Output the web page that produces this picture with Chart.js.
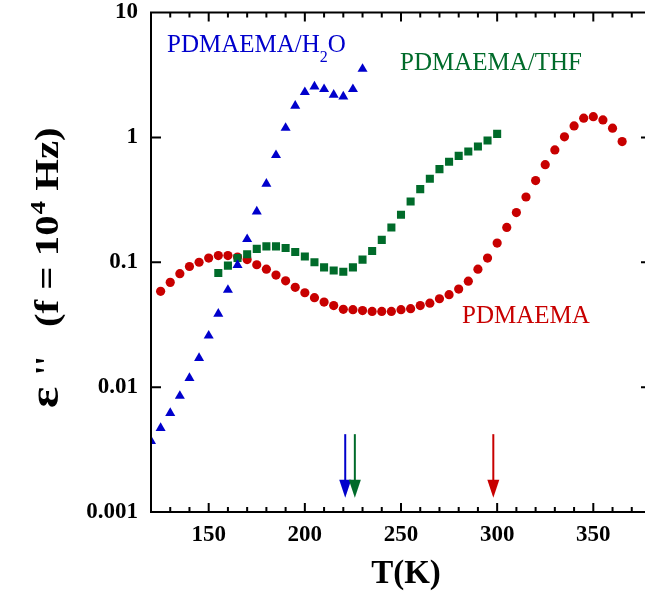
<!DOCTYPE html>
<html>
<head>
<meta charset="utf-8">
<script src="https://cdn.jsdelivr.net/npm/chart.js@4.4.1/dist/chart.umd.min.js"></script>
<style>
html, body { margin: 0; padding: 0; background: #fff; overflow: hidden; }
#wrap { width: 660px; height: 593px; }
</style>
</head>
<body>
<div id="wrap"><canvas id="chart" width="660" height="593"></canvas></div>
<script>
// PDMAEMA/H2O
var tempH2O = [120, 125, 130, 135, 140, 145, 150, 155, 160, 165, 170, 175, 180, 185, 190, 195, 200, 205, 210, 215, 220, 225, 230];
var epsH2O = [0.0037, 0.0047, 0.0062, 0.0085, 0.0118, 0.0171, 0.0258, 0.0387, 0.060, 0.095, 0.153, 0.255, 0.425, 0.72, 1.19, 1.79, 2.30, 2.55, 2.43, 2.19, 2.12, 2.43, 3.53];

// PDMAEMA/THF
var tempTHF = [155, 160, 165, 170, 175, 180, 185, 190, 195, 200, 205, 210, 215, 220, 225, 230, 235, 240, 245, 250, 255, 260, 265, 270, 275, 280, 285, 290, 295, 300];
var epsTHF = [0.082, 0.094, 0.108, 0.116, 0.128, 0.134, 0.134, 0.130, 0.121, 0.111, 0.100, 0.091, 0.086, 0.084, 0.091, 0.105, 0.123, 0.151, 0.190, 0.240, 0.307, 0.385, 0.466, 0.557, 0.637, 0.711, 0.77, 0.845, 0.944, 1.067];

// PDMAEMA (bulk)
var tempBulk = [125, 130, 135, 140, 145, 150, 155, 160, 165, 170, 175, 180, 185, 190, 195, 200, 205, 210, 215, 220, 225, 230, 235, 240, 245, 250, 255, 260, 265, 270, 275, 280, 285, 290, 295, 300, 305, 310, 315, 320, 325, 330, 335, 340, 345, 350, 355, 360, 365];
var epsBulk = [0.0585, 0.069, 0.081, 0.0925, 0.100, 0.108, 0.113, 0.113, 0.110, 0.105, 0.0955, 0.088, 0.079, 0.071, 0.063, 0.057, 0.052, 0.048, 0.045, 0.042, 0.0417, 0.041, 0.0404, 0.0404, 0.0404, 0.0417, 0.0425, 0.045, 0.047, 0.051, 0.055, 0.061, 0.0705, 0.088, 0.108, 0.1425, 0.19, 0.25, 0.333, 0.451, 0.605, 0.794, 1.01, 1.236, 1.425, 1.466, 1.38, 1.185, 0.925];

// arrows (Tg marks)
var arrowTemps = [221, 226, 298];
var arrowColors = ['#0000cc', '#006b2a', '#c80000'];
var arrowTop = 0.0042;
var arrowTip = 0.0013;

var xTicks = [150, 200, 250, 300, 350];
var xMinorTicks = [130, 140, 160, 170, 180, 190, 210, 220, 230, 240, 260, 270, 280, 290, 310, 320, 330, 340, 360, 370];
var yTicks = [0.001, 0.01, 0.1, 1, 10];
var yTickLabels = ['0.001', '0.01', '0.1', '1', '10'];

var blue = '#0000cc';
var green = '#006b2a';
var red = '#c80000';
var serif = "'Liberation Serif', 'Times New Roman', serif";

function pairs(xs, ys) {
    var out = [];
    for (var i = 0; i < xs.length; i++) {
        out.push({ x: xs[i], y: ys[i] });
    }
    return out;
}

var extras = {
    id: 'extras',
    afterDatasetsDraw: function (chart) {
        var ctx = chart.ctx;
        var a = chart.chartArea;
        var xs = chart.scales.x;
        var ys = chart.scales.y;
        var i, px, py;

        ctx.save();
        ctx.strokeStyle = '#000';
        ctx.lineWidth = 2;
        ctx.strokeRect(a.left, a.top, a.right - a.left, a.bottom - a.top);

        // inward ticks
        ctx.beginPath();
        for (i = 0; i < xTicks.length; i++) {
            px = xs.getPixelForValue(xTicks[i]);
            ctx.moveTo(px, a.bottom); ctx.lineTo(px, a.bottom - 9);
            ctx.moveTo(px, a.top); ctx.lineTo(px, a.top + 9);
        }
        for (i = 0; i < xMinorTicks.length; i++) {
            px = xs.getPixelForValue(xMinorTicks[i]);
            ctx.moveTo(px, a.bottom); ctx.lineTo(px, a.bottom - 5);
            ctx.moveTo(px, a.top); ctx.lineTo(px, a.top + 5);
        }
        for (i = 1; i < yTicks.length - 1; i++) {
            py = ys.getPixelForValue(yTicks[i]);
            ctx.moveTo(a.left, py); ctx.lineTo(a.left + 10, py);
            ctx.moveTo(a.right, py); ctx.lineTo(a.right - 10, py);
        }
        ctx.stroke();

        // arrows
        for (i = 0; i < arrowTemps.length; i++) {
            px = xs.getPixelForValue(arrowTemps[i]);
            var y0 = ys.getPixelForValue(arrowTop);
            var y1 = ys.getPixelForValue(arrowTip);
            ctx.strokeStyle = arrowColors[i];
            ctx.fillStyle = arrowColors[i];
            ctx.lineWidth = 2;
            ctx.beginPath();
            ctx.moveTo(px, y0);
            ctx.lineTo(px, y1 - 10);
            ctx.stroke();
            ctx.beginPath();
            ctx.moveTo(px - 6, y1 - 18);
            ctx.lineTo(px + 6, y1 - 18);
            ctx.lineTo(px, y1);
            ctx.closePath();
            ctx.fill();
        }

        // series labels
        ctx.textAlign = 'left';
        ctx.textBaseline = 'alphabetic';
        ctx.font = '25px ' + serif;
        ctx.fillStyle = blue;
        ctx.fillText('PDMAEMA/H', 167, 52);
        var w = ctx.measureText('PDMAEMA/H').width;
        ctx.font = '16px ' + serif;
        ctx.fillText('2', 167 + w, 62);
        var w2 = ctx.measureText('2').width;
        ctx.font = '25px ' + serif;
        ctx.fillText('O', 167 + w + w2, 52);
        ctx.fillStyle = green;
        ctx.fillText('PDMAEMA/THF', 400, 70);
        ctx.fillStyle = red;
        ctx.fillText('PDMAEMA', 462, 323);

        // axis titles
        ctx.fillStyle = '#000';
        ctx.font = 'bold 33px ' + serif;
        ctx.textAlign = 'center';
        ctx.fillText('T(K)', 406, 583);

        ctx.translate(58, 0);
        ctx.rotate(-Math.PI / 2);
        ctx.textAlign = 'left';
        ctx.save();
        ctx.translate(-408, 0);
        ctx.scale(1.25, 1);
        ctx.font = 'bold 40px ' + serif;
        ctx.fillText('\u03b5', 0, 0);
        ctx.restore();
        ctx.font = 'bold 34px ' + serif;
        ctx.fillText("''", -375, 0);
        ctx.save();
        ctx.translate(-327, 0);
        ctx.scale(1.2, 1);
        ctx.fillText('(f = 10', 0, 0);
        var w3 = ctx.measureText('(f = 10').width;
        ctx.font = 'bold 22px ' + serif;
        ctx.fillText('4', w3 + 1, -13);
        var w4 = ctx.measureText('4').width;
        ctx.font = 'bold 34px ' + serif;
        ctx.fillText(' Hz)', w3 + w4 + 1, 0);
        ctx.restore();
        ctx.restore();
    }
};

myChart = new Chart(document.getElementById('chart'), {
    type: 'scatter',
    data: {
        datasets: [{
            label: 'PDMAEMA/H2O',
            data: pairs(tempH2O, epsH2O),
            pointStyle: 'triangle',
            pointRadius: 5.8,
            backgroundColor: blue,
            borderColor: blue,
            borderWidth: 0
        }, {
            label: 'PDMAEMA/THF',
            data: pairs(tempTHF, epsTHF),
            pointStyle: 'rect',
            pointRadius: 5.7,
            backgroundColor: green,
            borderColor: green,
            borderWidth: 0
        }, {
            label: 'PDMAEMA',
            data: pairs(tempBulk, epsBulk),
            pointStyle: 'circle',
            pointRadius: 4.6,
            backgroundColor: red,
            borderColor: red,
            borderWidth: 0
        }]
    },
    options: {
        responsive: false,
        animation: false,
        devicePixelRatio: 1,
        layout: { padding: { left: 0, top: 12.5, right: 9, bottom: 0 } },
        plugins: {
            legend: { display: false },
            tooltip: { enabled: false }
        },
        scales: {
            x: {
                type: 'linear',
                position: 'bottom',
                min: 120,
                max: 380,
                grid: { display: false, drawTicks: false },
                border: { display: false },
                ticks: {
                    color: '#000',
                    padding: 9,
                    maxRotation: 0,
                    autoSkip: false,
                    font: { family: serif, size: 23, weight: 'bold' }
                },
                afterBuildTicks: function (s) {
                    s.ticks = xTicks.map(function (v) { return { value: v }; });
                },
                afterFit: function (s) {
                    s.height = 81;
                    s.paddingLeft = 0; s.paddingRight = 0;
                }
            },
            y: {
                type: 'logarithmic',
                position: 'left',
                min: 0.001,
                max: 10,
                grid: { display: false, drawTicks: false },
                border: { display: false },
                ticks: {
                    color: '#000',
                    padding: 13,
                    autoSkip: false,
                    font: { family: serif, size: 23, weight: 'bold' },
                    callback: function (v) {
                        var k = yTicks.indexOf(v);
                        return k >= 0 ? yTickLabels[k] : '';
                    }
                },
                afterBuildTicks: function (s) {
                    s.ticks = yTicks.map(function (v) { return { value: v }; });
                },
                afterFit: function (s) {
                    s.width = 151;
                    s.paddingTop = 0; s.paddingBottom = 0;
                }
            }
        }
    },
    plugins: [extras]
});
</script>
</body>
</html>
